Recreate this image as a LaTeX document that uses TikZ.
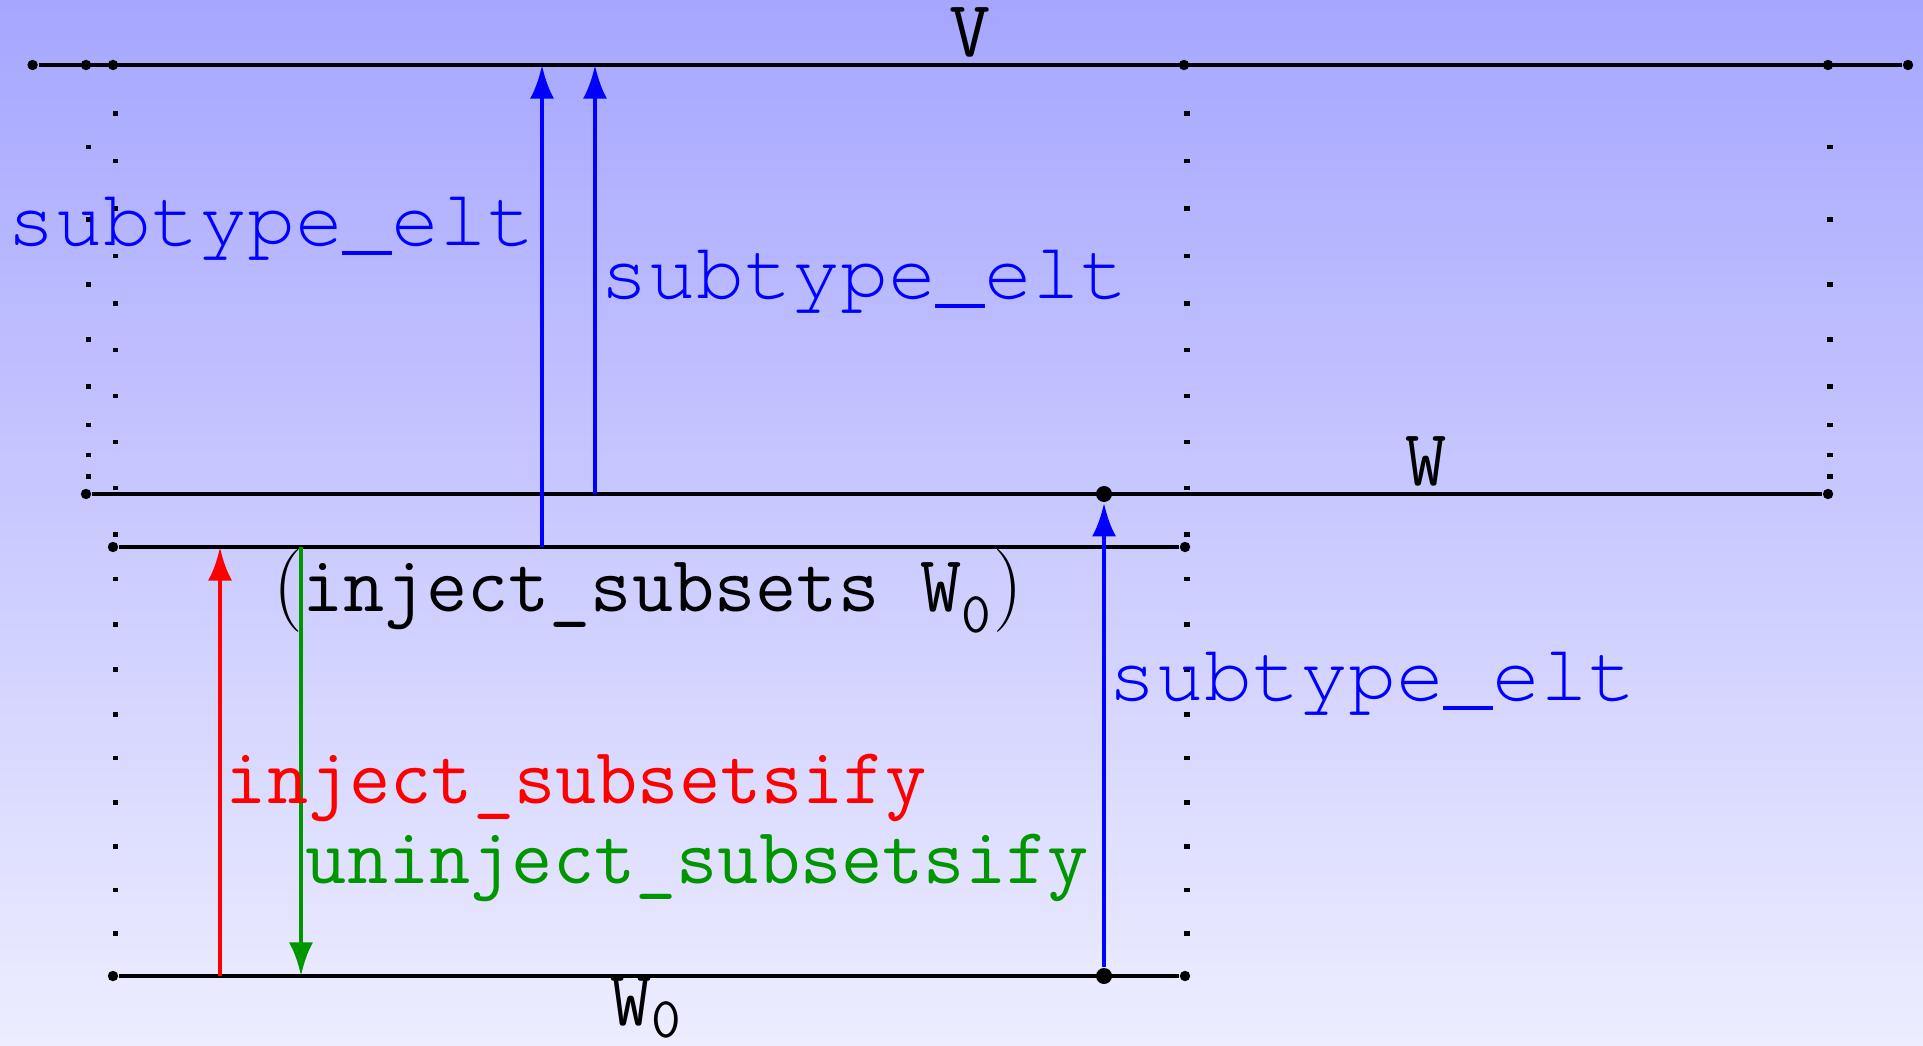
\documentclass[tikz,border=0pt]{standalone}
\usepackage[T1,TU]{fontenc}
\usetikzlibrary{arrows.meta}

\definecolor{mapblue}{RGB}{0,0,255}
\definecolor{mapred}{RGB}{255,0,0}
\definecolor{mapgreen}{RGB}{0,150,0}

% one square dot of a dotted guide line
\newcommand\guidedot[2]{\fill (#1-2.6,#2-2.2) rectangle (#1+2.6,#2+2.2);}

\tikzset{
  axisline/.style={line width=1.2pt, black},
  ptdot/.style={circle, fill=black, inner sep=0pt, minimum size=2.6pt},
  bigdot/.style={circle, fill=black, inner sep=0pt, minimum size=4pt},
  maparrow/.style={line width=1.2pt, -{Latex[length=8.4pt,width=6pt]}},
  ttlab/.style={inner sep=0pt, font=\fontsize{20}{24}\selectfont\ttfamily},
  crlab/.style={inner sep=0pt, text=mapblue,
    font=\fontencoding{T1}\fontfamily{pcr}\fontsize{20}{24}\selectfont},
}

\begin{document}
\begin{tikzpicture}[x=0.25pt, y=-0.25pt]
\useasboundingbox (0,0) rectangle (1923,1046);
\shade[top color=blue!35, bottom color=blue!7] (0,0) rectangle (1923,1046);

% dotted guides between V and W
\foreach \y in {146.8,219.6,284.6,339.6,386.7,425,455,476.7} {
  \guidedot{88.4}{\y}
  \guidedot{1830}{\y}
}
% dotted guides from V down to W_0
\foreach \y in {113.6,161,208.6,256,303.5,350,396,442,488,534.6,579,624.5,669.5,714.5,758,802.5,846.3,890,933.5} {
  \guidedot{115.2}{\y}
  \guidedot{1187}{\y}
}

% V
\node[ptdot] (v1) at (32.6,65) {};
\node[ptdot] (v2) at (86,65) {};
\node[ptdot] (v3) at (113,65) {};
\node[ptdot] (v4) at (1184,65) {};
\node[ptdot] (v5) at (1828,65) {};
\node[ptdot] (v6) at (1908,65) {};
\draw[axisline] (v1) -- (v6);

% W
\node[ptdot] (w1) at (86,494) {};
\node[bigdot] (wb) at (1104,494) {};
\node[ptdot] (w2) at (1828,494) {};
\draw[axisline] (w1) -- (w2);

% inject_subsets W_0
\node[ptdot] (i1) at (113,547) {};
\node[ptdot] (i2) at (1185,547) {};
\draw[axisline] (i1) -- (i2);

% W_0
\node[ptdot] (z1) at (113,976) {};
\node[bigdot] (zb) at (1104,976) {};
\node[ptdot] (z2) at (1185,976) {};
\draw[axisline] (z1) -- (z2);

% arrow end points on the lines
\coordinate (a1s) at (542,547);
\coordinate (a1e) at (542,65);
\coordinate (a2s) at (595,494);
\coordinate (a2e) at (595,65);
\coordinate (rs) at (220,976);
\coordinate (re) at (220,547);
\coordinate (gs) at (301,547);
\coordinate (ge) at (301,976);

\draw[maparrow, mapblue] (a1s) -- (a1e);
\draw[maparrow, mapblue] (a2s) -- (a2e);
\draw[maparrow, mapblue] (zb) -- (wb);
\draw[maparrow, mapred] (rs) -- (re);
\draw[maparrow, mapgreen] (gs) -- (ge);

% labels
\node[ttlab, anchor=base] (lV) at (970,57) {V};
\node[ttlab, anchor=base] (lW) at (1426,485.7) {W};
\node[ttlab, anchor=base] (lI) at (648,611.7) {$(\texttt{inject\_subsets W}_{\mathtt{0}})$};
\node[ttlab, anchor=base] (lZ) at (647,1025) {$\texttt{W}_{\mathtt{0}}$};

\node[crlab, anchor=base east] (s1) at (536,245.7) {subtype\_elt};
\node[crlab, anchor=base west] (s2) at (600,298.5) {subtype\_elt};
\node[crlab, anchor=base west] (s3) at (1108,700.8) {subtype\_elt};

\node[ttlab, anchor=base west, text=mapred] (lr) at (225,803.8) {inject\_subsetsify};
\node[ttlab, anchor=base west, text=mapgreen] (lg) at (305,883.6) {uninject\_subsetsify};
\end{tikzpicture}
\end{document}
